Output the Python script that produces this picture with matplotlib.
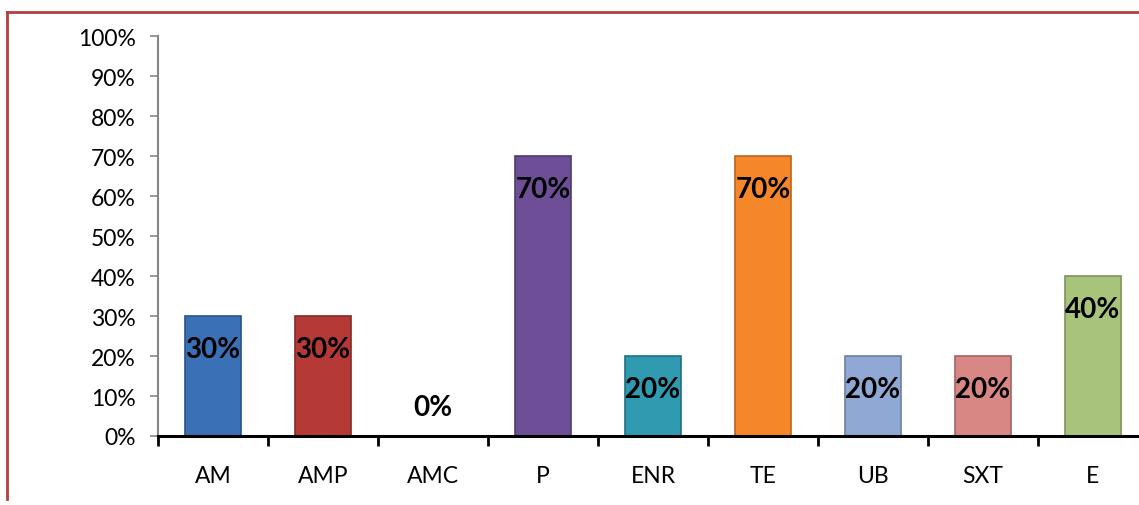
import matplotlib.pyplot as plt
import numpy as np
from matplotlib.lines import Line2D

categories = ["AM", "AMP", "AMC", "P", "ENR", "TE", "UB", "SXT", "E"]
values = [30, 30, 0, 70, 20, 70, 20, 20, 40]
colors = ["#3a70b6", "#b53a36", "#888888", "#6e4f97", "#2f9ab0",
          "#f5862a", "#8fa9d4", "#d88785", "#a8c47a"]
edges = ["#2a5288", "#852a28", "#666666", "#503a70", "#217184",
         "#b8651f", "#6b7fa0", "#a26563", "#7e935b"]

plt.rcParams['font.family'] = ['Lato', 'DejaVu Sans']

fig = plt.figure(figsize=(11.39, 5.06), dpi=100)
W, H = 1139, 506
ax = fig.add_axes([158 / W, (H - 437) / H, 990 / W, 400 / H])

x = np.arange(len(categories))
ax.bar(x, values, width=0.51, color=colors, edgecolor=edges, linewidth=1.2, zorder=2)

for xi, v in zip(x, values):
    if v > 0:
        ax.annotate(f"{v}%", (xi, v), xytext=(0, -24), textcoords="offset points",
                    ha="center", va="center", fontsize=20, fontweight="bold", zorder=3)
    else:
        ax.annotate(f"{v}%", (xi, v), xytext=(0, 21), textcoords="offset points",
                    ha="center", va="center", fontsize=20, fontweight="bold", zorder=3)

ax.set_xlim(-0.5, len(categories) - 0.5)
ax.set_ylim(0, 100)
ax.set_yticks(np.arange(0, 101, 10))
ax.set_yticklabels([f"{t}%" for t in range(0, 101, 10)])
ax.set_xticks(x)
ax.set_xticklabels(categories)
ax.set_xticks(np.arange(-0.5, len(categories), 1), minor=True)

ax.tick_params(axis="y", direction="out", length=6, width=1.2, color="#868686",
               labelsize=16.5, pad=10)
ax.tick_params(axis="x", which="major", length=0, labelsize=16.5, pad=21)
ax.tick_params(axis="x", which="minor", direction="out", length=7, width=2, color="black")

for s in ["top", "right"]:
    ax.spines[s].set_visible(False)
ax.spines["left"].set_color("#868686")
ax.spines["left"].set_linewidth(1.5)
ax.spines["bottom"].set_color("black")
ax.spines["bottom"].set_linewidth(2.2)
ax.spines["bottom"].set_zorder(4)

# chart area border
fig.add_artist(Line2D([7 / W, 7 / W], [(H - 13) / H, (H - 500) / H],
                      color="#b0413e", linewidth=2, transform=fig.transFigure))
fig.add_artist(Line2D([7 / W, 1.0], [(H - 13) / H, (H - 13) / H],
                      color="#b0413e", linewidth=2, transform=fig.transFigure))

fig.savefig("out.png", dpi=100)
